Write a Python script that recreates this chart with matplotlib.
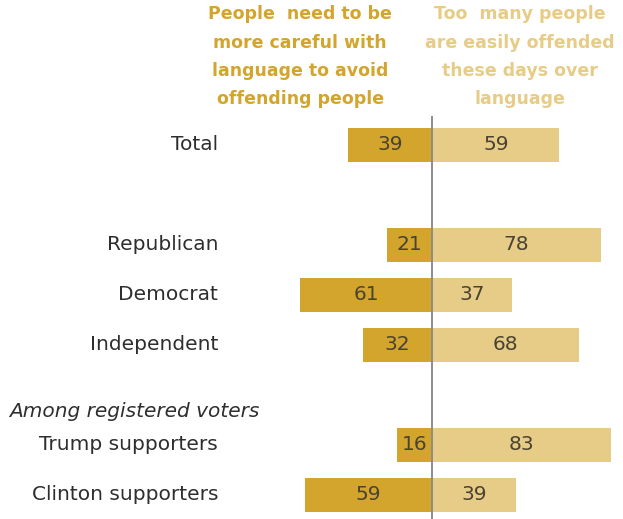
import matplotlib.pyplot as plt

# survey shares, percent
groups = ['Total', 'Republican', 'Democrat', 'Independent', 'Trump supporters', 'Clinton supporters']
rows = [0, 2, 3, 4, 6, 7]
careful = [39, 21, 61, 32, 16, 59]
offended = [59, 78, 37, 68, 83, 39]

dark_gold = '#D3A52C'
light_gold = '#E6CC86'
label_col = '#2e2e2e'
num_col = '#4A4232'

plt.rcParams['font.family'] = ['DejaVu Sans']

fig = plt.figure(figsize=(6.23, 5.19), dpi=100)
ax = fig.add_axes([0, 0, 1, 1])
ax.set_xlim(-200, 88.4)
ax.set_ylim(7.48, -2.9)
ax.axis('off')

ax.barh(rows, [-v for v in careful], height=0.68, color=dark_gold, zorder=2)
ax.barh(rows, offended, height=0.68, color=light_gold, zorder=2)
ax.axvline(0, ymin=0, ymax=0.775, color='#8c8c8c', lw=1.4, zorder=3)

for r, g, a, b in zip(rows, groups, careful, offended):
    ax.text(-99, r, g, ha='right', va='center', fontsize=14.5, color=label_col)
    ax.text(-a / 2, r, str(a), ha='center', va='center', fontsize=14.5, color=num_col, zorder=4)
    ax.text(b / 2, r, str(b), ha='center', va='center', fontsize=14.5, color=num_col, zorder=4)

ax.text(-196, 5.33, 'Among registered voters', ha='left', va='center',
        fontsize=14.5, style='italic', color=label_col)

ax.text(-61, -2.8, 'People  need to be\nmore careful with\nlanguage to avoid\noffending people',
        ha='center', va='top', fontsize=12.5, fontweight='bold', color=dark_gold, linespacing=1.75)
ax.text(40.5, -2.8, 'Too  many people\nare easily offended\nthese days over\nlanguage',
        ha='center', va='top', fontsize=12.5, fontweight='bold', color=light_gold, linespacing=1.75)

fig.savefig('out.png', dpi=100)
